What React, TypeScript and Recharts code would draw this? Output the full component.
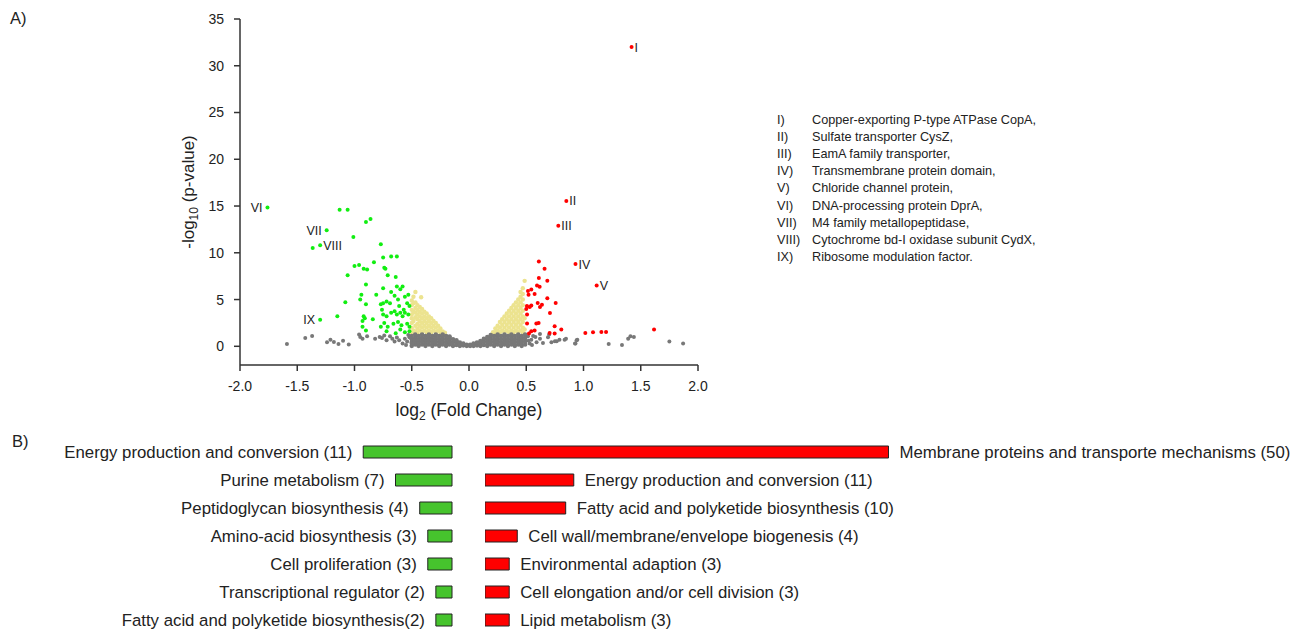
import { ScatterChart, Scatter, XAxis, YAxis, BarChart, Bar, LabelList } from 'recharts'

const FONT = '"Liberation Sans", Arial, sans-serif'

// volcano plot points: [log2 fold change, -log10 p]
const grayFar = [
  [-1.59, 0.25], [-1.43, 0.9], [-1.37, 1.1], [-1.24, 0.43], [-1.21, 0.7], [-1.18, 0.46], [-1.14, 0.25],
  [-1.10, 0.6], [-1.05, 0.2], [-0.96, 1.25], [-0.95, 1.0], [-0.93, 0.8], [-0.89, 1.07], [-0.82, 0.8],
  [-0.78, 1.0], [-0.76, 0.9], [-0.74, 1.15], [-0.72, 0.65], [-0.69, 1.07], [-0.67, 0.8], [-0.65, 0.5],
  [-0.63, 0.93], [-0.61, 0.65], [-0.58, 0.3], [-0.56, 0.8], [-0.54, 0.5], [-0.52, 0.96], [-0.50, 0.3],
  [-0.48, 0.7],
  [0.515, 1.07], [0.544, 0.7], [0.59, 0.43], [0.62, 0.8], [0.646, 0.36], [0.70, 1.25], [0.72, 0.43],
  [0.75, 0.54], [0.79, 0.7], [0.835, 0.7], [0.93, 0.29], [0.946, 0.7], [1.22, 0.25], [1.336, 0.14],
  [1.39, 0.8], [1.41, 1.07], [1.44, 1.0], [1.75, 0.5], [1.87, 0.29], [0.62, 1.32], [0.69, 0.96],
  [0.766, 0.53], [0.847, 0.82], [0.94, 0.64], [0.926, 0.29], [0.56, 1.1], [0.53, 0.3], [0.58, 1.0],
  [0.52, 0.6], [0.55, 0.15], [-0.53, 1.2], [-0.55, 0.15],
]

const grayBand = [
  [-0.50, 0.05], [-0.50, 0.4], [-0.50, 0.75], [-0.50, 1.1],
  [-0.47, 0.2], [-0.47, 0.55], [-0.47, 0.9], [-0.47, 1.25],
  [-0.44, 0.05], [-0.44, 0.4], [-0.44, 0.75], [-0.44, 1.1],
  [-0.41, 0.2], [-0.41, 0.55], [-0.41, 0.9], [-0.41, 1.25],
  [-0.38, 0.05], [-0.38, 0.4], [-0.38, 0.75], [-0.38, 1.1],
  [-0.35, 0.2], [-0.35, 0.55], [-0.35, 0.9], [-0.35, 1.25],
  [-0.32, 0.05], [-0.32, 0.4], [-0.32, 0.75], [-0.32, 1.1],
  [-0.29, 0.2], [-0.29, 0.55], [-0.29, 0.9], [-0.29, 1.25],
  [-0.26, 0.05], [-0.26, 0.4], [-0.26, 0.75], [-0.26, 1.1],
  [-0.23, 0.2], [-0.23, 0.55], [-0.23, 0.9], [-0.23, 1.25],
  [-0.20, 0.05], [-0.20, 0.4], [-0.20, 0.75], [-0.20, 1.1],
  [-0.17, 0.2], [-0.17, 0.55], [-0.17, 0.9], [-0.17, 1.05],
  [-0.14, 0.05], [-0.14, 0.4], [-0.14, 0.75],
  [-0.11, 0.15], [-0.11, 0.5], [-0.11, 0.65],
  [-0.08, 0.05], [-0.08, 0.4],
  [-0.05, 0.1], [-0.05, 0.3],
  [-0.02, 0.05], [-0.02, 0.15],
  [0.01, 0.05], [0.01, 0.15],
  [0.04, 0.05], [0.04, 0.3],
  [0.07, 0.1], [0.07, 0.4],
  [0.10, 0.05], [0.10, 0.4], [0.10, 0.55],
  [0.13, 0.15], [0.13, 0.5], [0.13, 0.8],
  [0.16, 0.05], [0.16, 0.4], [0.16, 0.75], [0.16, 1.0],
  [0.19, 0.2], [0.19, 0.55], [0.19, 0.9], [0.19, 1.2],
  [0.22, 0.05], [0.22, 0.4], [0.22, 0.75], [0.22, 1.1],
  [0.25, 0.2], [0.25, 0.55], [0.25, 0.9], [0.25, 1.25],
  [0.28, 0.05], [0.28, 0.4], [0.28, 0.75], [0.28, 1.1],
  [0.31, 0.2], [0.31, 0.55], [0.31, 0.9], [0.31, 1.25],
  [0.34, 0.05], [0.34, 0.4], [0.34, 0.75], [0.34, 1.1],
  [0.37, 0.2], [0.37, 0.55], [0.37, 0.9], [0.37, 1.25],
  [0.40, 0.05], [0.40, 0.4], [0.40, 0.75], [0.40, 1.1],
  [0.43, 0.2], [0.43, 0.55], [0.43, 0.9], [0.43, 1.25],
  [0.46, 0.05], [0.46, 0.4], [0.46, 0.75], [0.46, 1.1],
  [0.49, 0.2], [0.49, 0.55], [0.49, 0.9], [0.49, 1.25],
]

const yellowPts = [
  [-0.50, 1.5], [-0.50, 2.0], [-0.50, 2.5], [-0.50, 3.0], [-0.50, 3.4], [-0.50, 3.9], [-0.50, 4.4], [-0.50, 4.9],
  [-0.485, 1.7], [-0.485, 2.7], [-0.485, 3.7], [-0.485, 4.6], [-0.485, 5.3],
  [-0.468, 5.8], [-0.468, 1.6], [-0.468, 2.2], [-0.468, 3.1], [-0.468, 3.6], [-0.468, 4.1], [-0.468, 4.7],
  [-0.45, 1.4], [-0.45, 1.9], [-0.45, 2.4], [-0.45, 2.9], [-0.45, 3.4], [-0.45, 3.9], [-0.45, 4.4],
  [-0.43, 1.7], [-0.43, 2.2], [-0.43, 2.7], [-0.43, 3.2], [-0.43, 3.7], [-0.43, 4.2], [-0.418, 5.25],
  [-0.41, 1.5], [-0.41, 2.0], [-0.41, 2.5], [-0.41, 3.0], [-0.41, 3.5], [-0.41, 4.0],
  [-0.39, 1.7], [-0.39, 2.2], [-0.39, 2.7], [-0.39, 3.2], [-0.39, 3.7],
  [-0.37, 1.5], [-0.37, 2.0], [-0.37, 2.5], [-0.37, 3.0], [-0.37, 3.5],
  [-0.35, 1.7], [-0.35, 2.2], [-0.35, 2.7], [-0.35, 3.2],
  [-0.33, 1.5], [-0.33, 2.0], [-0.33, 2.5], [-0.33, 3.0],
  [-0.31, 1.7], [-0.31, 2.2], [-0.31, 2.7],
  [-0.29, 1.5], [-0.29, 2.0], [-0.29, 2.5],
  [-0.27, 1.7], [-0.27, 2.2],
  [-0.25, 1.5], [-0.25, 1.9],
  [-0.23, 1.6], [-0.21, 1.45],
  [0.21, 1.5],
  [0.23, 1.5], [0.23, 1.9],
  [0.25, 1.7], [0.25, 2.2],
  [0.27, 1.5], [0.27, 2.0], [0.27, 2.6],
  [0.29, 1.7], [0.29, 2.3], [0.29, 2.9],
  [0.31, 1.5], [0.31, 2.0], [0.31, 2.6], [0.31, 3.2],
  [0.33, 1.7], [0.33, 2.3], [0.33, 2.9], [0.33, 3.5],
  [0.35, 1.5], [0.35, 2.0], [0.35, 2.6], [0.35, 3.2], [0.35, 3.8],
  [0.37, 1.7], [0.37, 2.3], [0.37, 2.9], [0.37, 3.5], [0.37, 4.1],
  [0.39, 1.5], [0.39, 2.0], [0.39, 2.6], [0.39, 3.2], [0.39, 3.8], [0.39, 4.4],
  [0.41, 1.7], [0.41, 2.3], [0.41, 2.9], [0.41, 3.5], [0.41, 4.1], [0.41, 4.7],
  [0.43, 1.5], [0.43, 2.0], [0.43, 2.6], [0.43, 3.2], [0.43, 3.8], [0.43, 4.4], [0.43, 5.0],
  [0.45, 1.7], [0.45, 2.3], [0.45, 2.9], [0.45, 3.5], [0.45, 4.1], [0.45, 4.7], [0.45, 5.3], [0.45, 5.8],
  [0.47, 1.5], [0.47, 2.0], [0.47, 2.6], [0.47, 3.2], [0.47, 3.8], [0.47, 4.4], [0.47, 5.0], [0.47, 5.6], [0.47, 6.2],
  [0.486, 7.0], [0.486, 1.8], [0.486, 3.0],
]

const greenPts = [
  [-1.13, 14.6], [-1.06, 14.6], [-0.90, 13.3], [-0.86, 13.6], [-1.01, 11.7], [-0.77, 10.9], [-0.75, 9.5],
  [-0.68, 9.6], [-0.63, 9.6], [-0.83, 9.0], [-1.00, 8.6], [-0.96, 8.7], [-0.92, 8.3], [-0.89, 8.2],
  [-0.74, 8.4], [-0.73, 8.3], [-1.06, 7.6], [-0.71, 7.6], [-0.64, 7.4], [-0.90, 6.6], [-0.75, 6.2],
  [-0.63, 6.4], [-0.58, 6.4], [-0.60, 6.1], [-0.68, 5.8], [-0.81, 5.5], [-0.94, 5.5], [-0.95, 5.0],
  [-0.90, 4.5], [-1.08, 4.7], [-0.77, 4.5], [-0.75, 4.6], [-0.72, 4.8], [-0.69, 4.6], [-0.65, 5.4],
  [-0.62, 5.0], [-0.61, 4.3], [-0.56, 5.3], [-0.54, 4.6], [-0.53, 5.5], [-0.52, 4.3], [-1.15, 3.2],
  [-0.92, 3.2], [-0.91, 3.0], [-0.93, 2.7], [-0.84, 2.9], [-0.93, 2.1], [-0.90, 1.7], [-0.75, 3.4],
  [-0.72, 3.2], [-0.68, 3.6], [-0.65, 3.75], [-0.63, 3.4], [-0.60, 3.6], [-0.58, 3.2], [-0.56, 3.6],
  [-0.53, 3.4], [-0.74, 2.5], [-0.71, 2.1], [-0.66, 2.4], [-0.62, 2.6], [-0.59, 2.25], [-0.54, 2.4],
  [-0.52, 2.1], [-0.72, 1.6], [-0.64, 1.4], [-0.60, 1.8], [-0.56, 1.5], [-0.52, 1.6], [-0.77, 2.1],
  [-0.76, 3.9], [-0.57, 3.9], [-1.365, 10.5],
]

const redPts = [
  [0.61, 9.07], [0.66, 8.3], [0.61, 7.3], [0.684, 7.0], [0.594, 6.5], [0.617, 6.36], [0.515, 5.9],
  [0.544, 6.07], [0.573, 5.6], [0.52, 5.5], [0.684, 5.14], [0.60, 4.64], [0.637, 4.43], [0.757, 4.64],
  [0.506, 4.3], [0.53, 4.2], [0.544, 4.36], [0.50, 4.0], [0.62, 4.2], [0.707, 3.57], [0.507, 3.4],
  [0.588, 2.43], [0.608, 2.5], [0.507, 2.43], [0.748, 2.14], [0.806, 1.79], [0.544, 1.6], [0.573, 1.68],
  [0.524, 1.36], [0.704, 1.43], [0.748, 1.36], [1.016, 1.43], [1.083, 1.5], [1.156, 1.54], [1.197, 1.54],
  [1.616, 1.79],
]

const namedIds = ['I', 'II', 'III', 'IV', 'V', 'VI', 'VII', 'VIII', 'IX']
const namedX = [1.42, 0.85, 0.78, 0.93, 1.115, -1.76, -1.243, -1.30, -1.30]
const namedY = [32.0, 15.55, 12.9, 8.8, 6.5, 14.85, 12.4, 10.8, 2.85]

const legendNums = ['I)', 'II)', 'III)', 'IV)', 'V)', 'VI)', 'VII)', 'VIII)', 'IX)']
const legendTexts = [
  'Copper-exporting P-type ATPase CopA,',
  'Sulfate transporter CysZ,',
  'EamA family transporter,',
  'Transmembrane protein domain,',
  'Chloride channel protein,',
  'DNA-processing protein DprA,',
  'M4 family metallopeptidase,',
  'Cytochrome bd-I oxidase subunit CydX,',
  'Ribosome modulation factor.',
]

const xTicks = [-2, -1.5, -1, -0.5, 0, 0.5, 1, 1.5, 2]
const yTicks = [0, 5, 10, 15, 20, 25, 30, 35]

// B) functional categories
const downLabels = [
  'Energy production and conversion (11)',
  'Purine metabolism (7)',
  'Peptidoglycan biosynthesis (4)',
  'Amino-acid biosynthesis (3)',
  'Cell proliferation (3)',
  'Transcriptional regulator (2)',
  'Fatty acid and polyketide biosynthesis(2)',
]
const downCounts = [11, 7, 4, 3, 3, 2, 2]

const upLabels = [
  'Membrane proteins and transporte mechanisms (50)',
  'Energy production and conversion (11)',
  'Fatty acid and polyketide biosynthesis (10)',
  'Cell wall/membrane/envelope biogenesis (4)',
  'Environmental adaption (3)',
  'Cell elongation and/or cell division (3)',
  'Lipid metabolism (3)',
]
const upCounts = [50, 11, 10, 4, 3, 3, 3]

const toPts = (a: number[][]) => a.map(([x, y]) => ({ x, y }))
const named = namedIds.map((id, i) => ({ id, x: namedX[i], y: namedY[i] }))
const downData = downLabels.map((label, i) => ({ name: label, label, value: downCounts[i] }))
const upData = upLabels.map((label, i) => ({ name: label, label, value: upCounts[i] }))

const leftSide = ['VI', 'VII', 'IX']

const dot = (color: string, r: number) => (p: any) => <circle cx={p.cx} cy={p.cy} r={r} fill={color} />

const namedDot = (p: any) => {
  const id = p.payload.id
  const color = p.payload.x > 0 ? '#ff0000' : '#11ee11'
  const left = leftSide.includes(id)
  return (
    <g>
      <circle cx={p.cx} cy={p.cy} r={2} fill={color} />
      <text x={left ? p.cx - 5 : p.cx + 3} y={p.cy} dy="0.36em" textAnchor={left ? 'end' : 'start'}
        fontSize={12.5} fill="#222" fontFamily={FONT}>{id}</text>
    </g>
  )
}

const barLabel = (side: 'left' | 'right') => (props: any) => {
  const vb = props.viewBox ?? props
  const x0 = Math.min(vb.x, vb.x + vb.width)
  const x1 = Math.max(vb.x, vb.x + vb.width)
  const cy = vb.y + vb.height / 2
  return (
    <text x={side === 'left' ? x0 - 11 : x1 + 11} y={cy} dy="0.36em" textAnchor={side === 'left' ? 'end' : 'start'}
      fontSize={16.8} fill="#222" fontFamily={FONT}>{props.value}</text>
  )
}

const tickStyle = { fill: '#222', fontSize: 14, fontFamily: FONT }

export default function App() {
  return (
    <div style={{ position: 'absolute', left: 0, top: 0, width: 1309, height: 629, overflow: 'hidden', background: '#fff', fontFamily: FONT }}>
      <div style={{ position: 'absolute', left: 0, top: 0 }}>
        <ScatterChart width={720} height={420} margin={{ top: 19, right: 22, bottom: 25, left: 180 }}>
          <XAxis type="number" dataKey="x" domain={[-2, 2]} ticks={xTicks} interval={0} height={30}
            tickFormatter={(v: number) => v.toFixed(1)} tick={tickStyle} tickSize={6} tickMargin={10}
            axisLine={{ stroke: '#333', strokeWidth: 1.5 }} tickLine={{ stroke: '#333', strokeWidth: 1.5 }} />
          <YAxis type="number" dataKey="y" domain={[-2, 35]} ticks={yTicks} interval={0} width={60}
            tick={tickStyle} tickSize={6} tickMargin={10}
            axisLine={{ stroke: '#333', strokeWidth: 1.5 }} tickLine={{ stroke: '#333', strokeWidth: 1.5 }} />
          <Scatter data={toPts(yellowPts)} shape={dot('#ece38f', 2.2)} isAnimationActive={false} />
          <Scatter data={toPts(grayBand)} shape={dot('#787878', 2.3)} isAnimationActive={false} />
          <Scatter data={toPts(grayFar)} shape={dot('#787878', 2)} isAnimationActive={false} />
          <Scatter data={toPts(greenPts)} shape={dot('#11ee11', 2)} isAnimationActive={false} />
          <Scatter data={toPts(redPts)} shape={dot('#ff0000', 2)} isAnimationActive={false} />
          <Scatter data={named} shape={namedDot} isAnimationActive={false} />
        </ScatterChart>
      </div>

      <div style={{ position: 'absolute', left: 0, top: 438.3 }}>
        <BarChart layout="vertical" width={454} height={200} data={downData} barSize={12}
          margin={{ top: 0, right: 2, bottom: 4, left: 48.5 }}>
          <XAxis type="number" domain={[0, 50]} reversed hide />
          <YAxis type="category" dataKey="name" hide />
          <Bar dataKey="value" fill="#46c42d" stroke="#222" strokeWidth={1} isAnimationActive={false}>
            <LabelList dataKey="label" content={barLabel('left')} />
          </Bar>
        </BarChart>
      </div>

      <div style={{ position: 'absolute', left: 485, top: 438.3 }}>
        <BarChart layout="vertical" width={820} height={200} data={upData} barSize={12}
          margin={{ top: 0, right: 416.5, bottom: 4, left: 0 }}>
          <XAxis type="number" domain={[0, 50]} hide />
          <YAxis type="category" dataKey="name" hide />
          <Bar dataKey="value" fill="#ff0000" stroke="#222" strokeWidth={1} isAnimationActive={false}>
            <LabelList dataKey="label" content={barLabel('right')} />
          </Bar>
        </BarChart>
      </div>

      <svg width={1309} height={629} style={{ position: 'absolute', left: 0, top: 0, pointerEvents: 'none' }}
        fontFamily={FONT} fill="#222">
        <text x={10} y={24} fontSize={16.5}>A)</text>
        <text x={12} y={447} fontSize={16.5}>B)</text>
        <text x={469} y={416} fontSize={17.5} textAnchor="middle">
          log<tspan dy={4} fontSize={12}>2</tspan><tspan dy={-4}> (Fold Change)</tspan>
        </text>
        <text transform="translate(194,192) rotate(-90)" fontSize={17} textAnchor="middle">
          -log<tspan dy={4} fontSize={12}>10</tspan><tspan dy={-4}> (p-value)</tspan>
        </text>
        {legendNums.map((n, i) => (
          <text key={n} x={777} y={119 + i * 17.2 + 4.5} fontSize={12.7}>{n}</text>
        ))}
        {legendTexts.map((t, i) => (
          <text key={t} x={812} y={119 + i * 17.2 + 4.5} fontSize={12.7}>{t}</text>
        ))}
      </svg>
    </div>
  )
}
